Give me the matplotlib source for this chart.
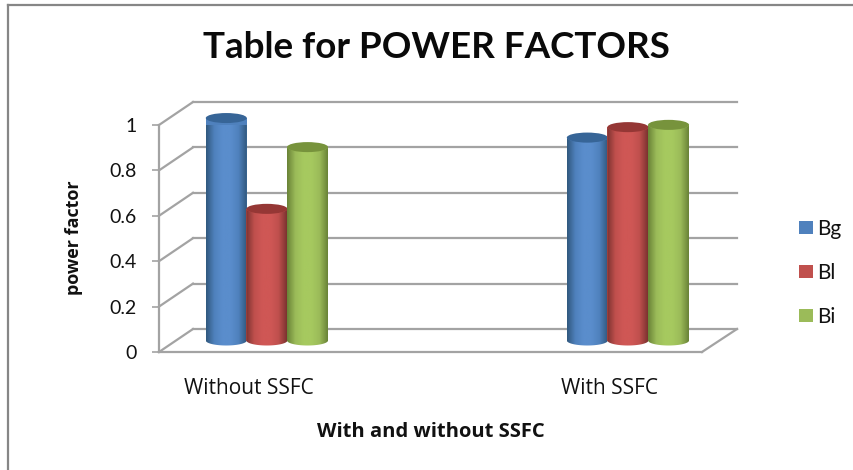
import matplotlib
matplotlib.use("Agg")
import matplotlib.pyplot as plt
import numpy as np
from matplotlib.colors import LinearSegmentedColormap
from matplotlib.lines import Line2D
from matplotlib.patches import Ellipse, PathPatch
from matplotlib.path import Path
from matplotlib.transforms import ScaledTranslation

categories = ["Without SSFC", "With SSFC"]
series_names = ["Bg", "Bl", "Bi"]
bg_values = [0.98, 0.894]
bl_values = [0.58, 0.94]
bi_values = [0.852, 0.95]
y_ticks = [0, 0.2, 0.4, 0.6, 0.8, 1]
y_tick_labels = ["0", "0.2", "0.4", "0.6", "0.8", "1"]

W, H = 854, 470
plt.rcParams["font.family"] = ["Lato", "DejaVu Sans"]
GRID = "#a3a3a3"
FONT = "#111111"

fig = plt.figure(figsize=(W / 100, H / 100), dpi=100)


def fx(x):
    return x / W


def fy(y):
    return 1 - y / H


# axes is the front plane of the 3d box, back wall is the same thing shifted
ax = fig.add_axes([fx(159), fy(352), (702 - 159) / W, (352 - 125) / H])
ax.patch.set_visible(False)
ax.set_xlim(-0.249, 1.255)
ax.set_ylim(0, 1)


def shifted(px, py):
    return ax.transData + ScaledTranslation(px / 100, py / 100, fig.dpi_scale_trans)


mid = shifted(18, 11.5)

px_x = 1 / (543 / 1.504)  # data x per pixel
px_y = 1 / 227  # data y per pixel

for t in y_ticks:
    p0 = ax.transData.transform((-0.249, t))
    ax.add_line(Line2D([p0[0], p0[0] + 34], [p0[1], p0[1] + 23], transform=None, color=GRID, lw=1.6, clip_on=False, zorder=1))
    ax.add_line(Line2D([p0[0] + 34, 737], [p0[1] + 23, p0[1] + 23], transform=None, color=GRID, lw=1.6, clip_on=False, zorder=1))
p1 = ax.transData.transform((1.255, 0))
ax.add_line(Line2D([p1[0], 737], [p1[1], p1[1] + 23], transform=None, color=GRID, lw=1.6, clip_on=False, zorder=1))

for side in ["top", "right"]:
    ax.spines[side].set_visible(False)
for side in ["left", "bottom"]:
    ax.spines[side].set_color(GRID)
    ax.spines[side].set_linewidth(1.6)

ax.set_yticks(y_ticks)
ax.set_yticklabels(y_tick_labels, fontsize=14, color=FONT)
ax.tick_params(axis="y", length=5, width=1.2, color=GRID, pad=11)
ax.set_xticks([0, 1])
ax.set_xticklabels(categories, fontsize=15, color=FONT, family="Open Sans")
ax.tick_params(axis="x", length=0, pad=19)
ax.set_xlabel("With and without SSFC", fontsize=14.5, fontweight="bold", color=FONT, family="Open Sans")
ax.xaxis.set_label_coords((431 - 159) / 543, (352 - 432) / 227, transform=ax.transAxes)
ax.xaxis.label.set_va("center")
ax.set_ylabel("power factor", fontsize=13, fontweight="bold", color=FONT, family="Open Sans")
ax.yaxis.set_label_coords((74 - 159) / 543, (352 - 238) / 227, transform=ax.transAxes)
ax.yaxis.label.set_va("center")

fig.suptitle("Table for POWER FACTORS", x=fx(436), y=fy(47), fontsize=26.5, fontweight="bold", va="center", color="#0a0a0a")

w = 41 * px_x
ell_h = 10 * px_y
styles = [
    ("#4f81bd", "#31597f", "#5a8dcc", "#376597"),
    ("#c0504d", "#7d3331", "#cf5755", "#953735"),
    ("#9bbb59", "#6a8438", "#a6c95f", "#77933c"),
]
all_values = [bg_values, bl_values, bi_values]
handles = []

for i, (vals, name, st) in enumerate(zip(all_values, series_names, styles)):
    offset = (i - 1) * 0.1125
    x = np.arange(len(categories)) + offset
    bars = ax.bar(x, vals, width=w, color=st[0], transform=mid, label=name, zorder=2 + i, clip_on=False)
    handles.append(bars[0])
    cmap = LinearSegmentedColormap.from_list("c", [st[1], st[0], st[2], st[2], st[0], st[1]])
    for xc, v in zip(x, vals):
        t = np.linspace(np.pi, 2 * np.pi, 40)
        xs = xc + w / 2 * np.cos(t)
        low = ell_h / 2 * np.sin(t)
        verts = list(zip(xs, low)) + list(zip(xs[::-1], v + low[::-1]))
        verts.append(verts[0])
        body = Path(verts)
        img = ax.imshow(np.linspace(0, 1, 64).reshape(1, -1), cmap=cmap, aspect="auto",
                        extent=(xc - w / 2, xc + w / 2, -ell_h, v + ell_h),
                        transform=mid, zorder=2 + i, clip_on=True)
        img.set_clip_path(PathPatch(body, transform=mid))
        ax.add_patch(Ellipse((xc, v), w, ell_h, facecolor=st[3], edgecolor="none", transform=mid, zorder=2.5 + i, clip_on=False))

ax.set_xlim(-0.249, 1.255)
ax.set_ylim(0, 1)

leg = fig.legend(handles, series_names, loc="center left", bbox_to_anchor=(fx(780), fy(273)),
                 frameon=False, fontsize=15, handlelength=0.7, handleheight=0.6,
                 labelspacing=1.15, handletextpad=0.2, labelcolor=FONT)

# chart frame, only top and left are inside the crop
fig.add_artist(Line2D([fx(8), fx(8)], [fy(5), 0], color="#868686", lw=1.6))
fig.add_artist(Line2D([fx(8), 1], [fy(5), fy(5)], color="#868686", lw=1.6))

plt.savefig("out.png", dpi=100)
